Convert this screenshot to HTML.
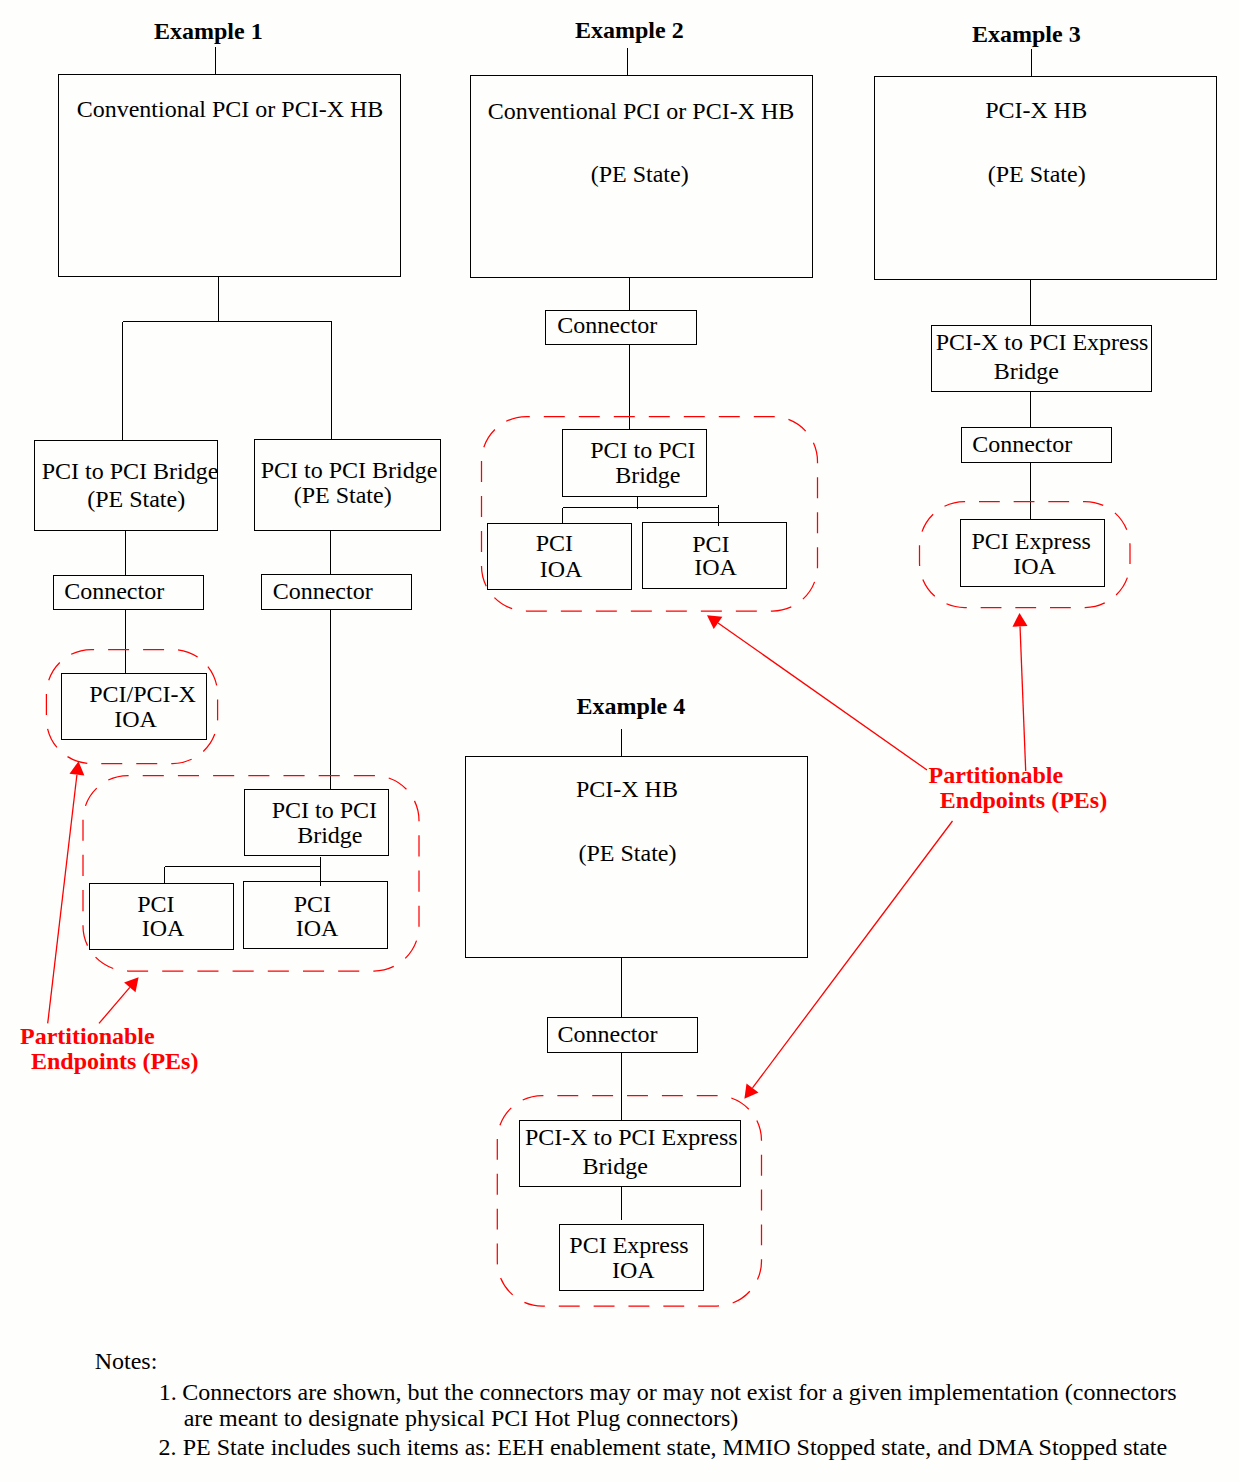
<!DOCTYPE html>
<html><head><meta charset="utf-8"><style>html,body{margin:0;padding:0;background:#fefefc;}svg{display:block;}text{font-family:"Liberation Serif",serif;font-size:24px;}</style></head><body>
<svg width="1239" height="1482" viewBox="0 0 1239 1482">
<g fill="none" stroke="#000" stroke-width="1" shape-rendering="crispEdges">
<rect x="58.5" y="74.5" width="342" height="202"/>
<rect x="470.5" y="75.5" width="342" height="202"/>
<rect x="874.5" y="76.5" width="342" height="203"/>
<rect x="465.5" y="756.5" width="342" height="201"/>
<rect x="34.5" y="440.5" width="183" height="90"/>
<rect x="254.5" y="439.5" width="186" height="91"/>
<rect x="53.5" y="575.5" width="150" height="34"/>
<rect x="261.5" y="574.5" width="150" height="35"/>
<rect x="61.5" y="673.5" width="145" height="66"/>
<rect x="244.5" y="789.5" width="144" height="66"/>
<rect x="89.5" y="883.5" width="144" height="66"/>
<rect x="243.5" y="881.5" width="144" height="67"/>
<rect x="545.5" y="310.5" width="151" height="34"/>
<rect x="562.5" y="429.5" width="144" height="67"/>
<rect x="487.5" y="523.5" width="144" height="66"/>
<rect x="642.5" y="522.5" width="144" height="66"/>
<rect x="931.5" y="325.5" width="220" height="66"/>
<rect x="961.5" y="427.5" width="150" height="35"/>
<rect x="960.5" y="519.5" width="144" height="67"/>
<rect x="547.5" y="1017.5" width="150" height="35"/>
<rect x="519.5" y="1120.5" width="221" height="66"/>
<rect x="559.5" y="1224.5" width="144" height="66"/>
<line x1="215.5" y1="47" x2="215.5" y2="74.5"/>
<line x1="218.5" y1="276.5" x2="218.5" y2="321.5"/>
<line x1="122.5" y1="321.5" x2="331.5" y2="321.5"/>
<line x1="122.5" y1="321.5" x2="122.5" y2="441"/>
<line x1="331.5" y1="321.5" x2="331.5" y2="440"/>
<line x1="125.5" y1="530.5" x2="125.5" y2="575.5"/>
<line x1="125.5" y1="609.5" x2="125.5" y2="673.5"/>
<line x1="330.5" y1="530.5" x2="330.5" y2="574.5"/>
<line x1="330.5" y1="609.5" x2="330.5" y2="789.5"/>
<line x1="320.5" y1="857" x2="320.5" y2="886"/>
<line x1="164.5" y1="866.5" x2="320.5" y2="866.5"/>
<line x1="164.5" y1="866.5" x2="164.5" y2="883.5"/>
<line x1="627.5" y1="48" x2="627.5" y2="75.5"/>
<line x1="629.5" y1="277.5" x2="629.5" y2="310.5"/>
<line x1="629.5" y1="344.5" x2="629.5" y2="429.5"/>
<line x1="637.5" y1="495.5" x2="637.5" y2="509"/>
<line x1="562.5" y1="507.5" x2="718.5" y2="507.5"/>
<line x1="562.5" y1="507.5" x2="562.5" y2="523.5"/>
<line x1="718.5" y1="505" x2="718.5" y2="526"/>
<line x1="1031.5" y1="49" x2="1031.5" y2="76.5"/>
<line x1="1030.5" y1="279.5" x2="1030.5" y2="325.5"/>
<line x1="1030.5" y1="391.5" x2="1030.5" y2="427.5"/>
<line x1="1030.5" y1="462.5" x2="1030.5" y2="519.5"/>
<line x1="621.5" y1="729" x2="621.5" y2="756.5"/>
<line x1="621.5" y1="957.5" x2="621.5" y2="1017.5"/>
<line x1="621.5" y1="1052.5" x2="621.5" y2="1120.5"/>
<line x1="621.5" y1="1186.5" x2="621.5" y2="1219.5"/>
</g>
<g fill="none" stroke="#f00" stroke-width="1.25" stroke-dasharray="21 14">
<path d="M91.4,649.5 A45,45 0 0 0 46.4,694.5 L46.4,718.5 A45,45 0 0 0 91.4,763.5 L172.6,763.5 A45,45 0 0 0 217.6,718.5 L217.6,694.5 A45,45 0 0 0 172.6,649.5 Z" stroke-dashoffset="0" stroke-dasharray="21 14"/>
<path d="M128,775.5 A45,45 0 0 0 83,820.5 L83,926 A45,45 0 0 0 128,971 L374,971 A45,45 0 0 0 419,926 L419,820.5 A45,45 0 0 0 374,775.5 Z" stroke-dashoffset="0.67" stroke-dasharray="21.11 14.08"/>
<path d="M526.5,416.5 A45,45 0 0 0 481.5,461.5 L481.5,566 A45,45 0 0 0 526.5,611 L772.5,611 A45,45 0 0 0 817.5,566 L817.5,461.5 A45,45 0 0 0 772.5,416.5 Z" stroke-dashoffset="0" stroke-dasharray="21 14"/>
<path d="M964.5,501.5 A45,45 0 0 0 919.5,546.5 L919.5,562.5 A45,45 0 0 0 964.5,607.5 L1085,607.5 A45,45 0 0 0 1130,562.5 L1130,546.5 A45,45 0 0 0 1085,501.5 Z" stroke-dashoffset="0.05" stroke-dasharray="20.8 13.87"/>
<path d="M542.3,1095.5 A45,45 0 0 0 497.3,1140.5 L497.3,1261 A45,45 0 0 0 542.3,1306 L716.5,1306 A45,45 0 0 0 761.5,1261 L761.5,1140.5 A45,45 0 0 0 716.5,1095.5 Z" stroke-dashoffset="0.67" stroke-dasharray="20.91 13.94"/>
</g>
<g stroke="#f00" stroke-width="1.3" fill="#f00">
<line x1="47.7" y1="1023.4" x2="76.92" y2="774.71"/>
<polygon stroke="none" points="78.5,761.3 84.37,775.58 69.48,773.83"/>
<line x1="99" y1="1023.4" x2="129.81" y2="987.45"/>
<polygon stroke="none" points="138.6,977.2 135.51,992.33 124.12,982.57"/>
<line x1="927" y1="770" x2="718.04" y2="622.97"/>
<polygon stroke="none" points="707,615.2 722.36,616.83 713.72,629.1"/>
<line x1="1025.7" y1="771" x2="1020.03" y2="626.39"/>
<polygon stroke="none" points="1019.5,612.9 1027.52,626.1 1012.53,626.68"/>
<line x1="952.5" y1="821" x2="752.5" y2="1087.9"/>
<polygon stroke="none" points="744.4,1098.7 746.49,1083.4 758.5,1092.39"/>
</g>
<text x="154" y="39" fill="#000" font-weight="bold">Example 1</text>
<text x="575" y="38" fill="#000" font-weight="bold">Example 2</text>
<text x="972" y="42" fill="#000" font-weight="bold">Example 3</text>
<text x="576.6" y="714" fill="#000" font-weight="bold">Example 4</text>
<text x="76.7" y="117" fill="#000">Conventional PCI or PCI-X HB</text>
<text x="487.7" y="119" fill="#000">Conventional PCI or PCI-X HB</text>
<text x="590.7" y="182" fill="#000">(PE State)</text>
<text x="985.2" y="118" fill="#000">PCI-X HB</text>
<text x="987.7" y="182" fill="#000">(PE State)</text>
<text x="575.9" y="797" fill="#000">PCI-X HB</text>
<text x="578.5" y="861" fill="#000">(PE State)</text>
<text x="41.7" y="479" fill="#000">PCI to PCI Bridge</text>
<text x="87.2" y="507" fill="#000">(PE State)</text>
<text x="260.7" y="478" fill="#000">PCI to PCI Bridge</text>
<text x="293.7" y="502.5" fill="#000">(PE State)</text>
<text x="64.2" y="599" fill="#000">Connector</text>
<text x="272.7" y="599" fill="#000">Connector</text>
<text x="89.2" y="702" fill="#000">PCI/PCI-X</text>
<text x="114.2" y="727" fill="#000">IOA</text>
<text x="271.7" y="818" fill="#000">PCI to PCI</text>
<text x="297.2" y="842.5" fill="#000">Bridge</text>
<text x="137.2" y="912" fill="#000">PCI</text>
<text x="141.7" y="936" fill="#000">IOA</text>
<text x="293.7" y="912" fill="#000">PCI</text>
<text x="295.7" y="936" fill="#000">IOA</text>
<text x="20" y="1044" fill="#f00" font-weight="bold">Partitionable</text>
<text x="31" y="1069" fill="#f00" font-weight="bold">Endpoints (PEs)</text>
<text x="557.2" y="333" fill="#000">Connector</text>
<text x="590.2" y="458" fill="#000">PCI to PCI</text>
<text x="615.2" y="483" fill="#000">Bridge</text>
<text x="535.7" y="551" fill="#000">PCI</text>
<text x="539.7" y="577" fill="#000">IOA</text>
<text x="692.2" y="552" fill="#000">PCI</text>
<text x="694.2" y="575" fill="#000">IOA</text>
<text x="935.7" y="350" fill="#000">PCI-X to PCI Express</text>
<text x="993.7" y="379" fill="#000">Bridge</text>
<text x="972.2" y="452" fill="#000">Connector</text>
<text x="971.5" y="549" fill="#000">PCI Express</text>
<text x="1013.2" y="573.5" fill="#000">IOA</text>
<text x="928.5" y="782.5" fill="#f00" font-weight="bold">Partitionable</text>
<text x="939.8" y="808" fill="#f00" font-weight="bold">Endpoints (PEs)</text>
<text x="557.5" y="1041.6" fill="#000">Connector</text>
<text x="524.9" y="1144.6" fill="#000">PCI-X to PCI Express</text>
<text x="582.5" y="1173.5" fill="#000">Bridge</text>
<text x="569.3" y="1252.5" fill="#000">PCI Express</text>
<text x="611.9" y="1278" fill="#000">IOA</text>
<text x="94.7" y="1368.6" fill="#000">Notes:</text>
<text x="158.7" y="1399.5" fill="#000">1.</text>
<text x="182.3" y="1399.5" fill="#000">Connectors are shown, but the connectors may or may not exist for a given implementation (connectors</text>
<text x="183.7" y="1426" fill="#000">are meant to designate physical PCI Hot Plug connectors)</text>
<text x="158.4" y="1455" fill="#000">2.</text>
<text x="182.7" y="1455" fill="#000">PE State includes such items as: EEH enablement state, MMIO Stopped state, and DMA Stopped state</text>
</svg></body></html>
